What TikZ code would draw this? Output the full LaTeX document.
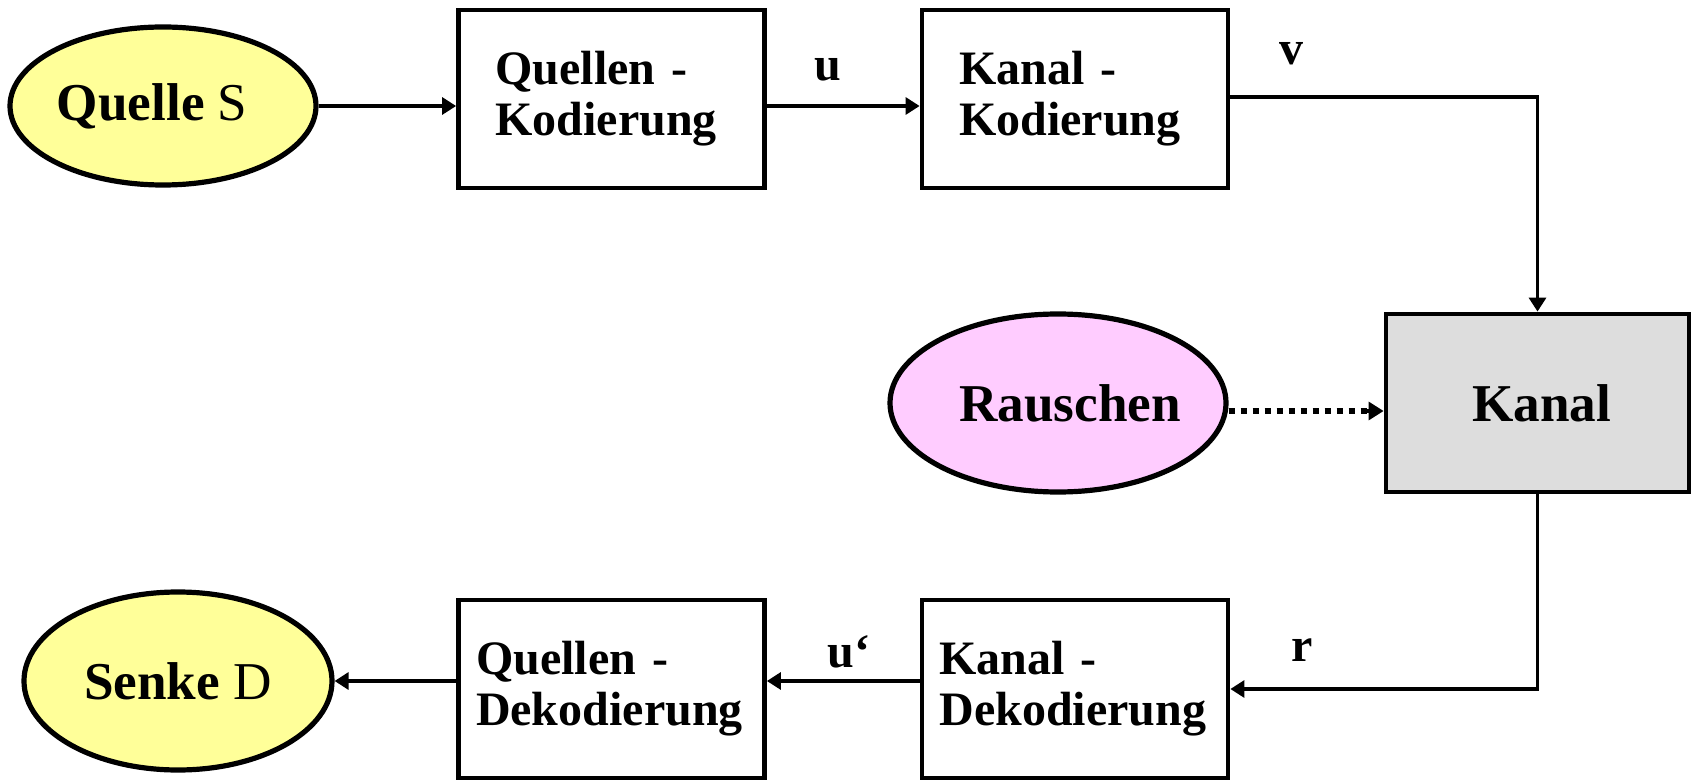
\documentclass[tikz,border=0pt]{standalone}
\usepackage{fontspec}
\setmainfont{Liberation Serif}
\usetikzlibrary{shapes.geometric,arrows.meta}
\definecolor{yel}{HTML}{FFFF99}
\definecolor{pnk}{HTML}{FFCCFF}
\definecolor{gry}{HTML}{DDDDDD}
\tikzset{
  oval/.style={ellipse,draw,line width=2.6pt,inner sep=0pt,font=\fontsize{26.6}{28}\selectfont\bfseries},
  blk/.style={rectangle,draw,line width=2.4pt,minimum width=153pt,minimum height=89pt,inner sep=0pt,
     align=left,font=\fontsize{24}{25.5}\selectfont\bfseries},
  tip/.style={-{Triangle[length=7pt,width=8.5pt]}},
  conn/.style={line width=1.6pt,tip},
  lbl/.style={font=\fontsize{24}{26}\selectfont\bfseries,inner sep=0pt}
}
\begin{document}
\begin{tikzpicture}[x=0.5pt,y=-0.5pt]
\useasboundingbox[fill=white] (0,0) rectangle (1691,780);
\node[oval,fill=yel,minimum width=153pt,minimum height=79pt] (quelle) at (163,106) {\hspace*{-5.4pt}Quelle\mdseries{} S\hspace*{5.4pt}};
\node[blk,text width=116pt] (qk) at (611.5,99) {Quellen -\\Kodierung};
\node[blk,text width=116pt] (kk) at (1075,99) {Kanal -\\Kodierung};
\node[blk,fill=gry,minimum width=151.5pt,font=\fontsize{26.6}{28}\selectfont\bfseries] (kanal) at (1537.5,403) {\hspace*{2pt}Kanal\hspace*{-2pt}};
\node[oval,fill=pnk,minimum width=168pt,minimum height=89pt] (rauschen) at (1058,403) {\hspace*{6pt}Rauschen\hspace*{-6pt}};
\node[blk,text width=135.5pt] (kd) at (1075,689) {Kanal -\\Dekodierung};
\node[blk,text width=135.5pt] (qd) at (611.5,689) {Quellen -\\Dekodierung};
\node[oval,fill=yel,minimum width=154pt,minimum height=89pt] (senke) at (178,681) {Senke\mdseries{} D};
\node[lbl] (lu) at (828,70) {u};
\node[lbl] (lv) at (1291,54) {v};
\node[lbl] (lu2) at (849,652) {u‘};
\node[lbl] (lr) at (1302,650) {r};
\draw[conn] (quelle.east) -- (quelle.east -| qk.west);
\draw[conn] (qk.east |- quelle.east) -- (kk.west |- quelle.east);
\draw[conn] ([yshift=1pt]kk.east) -| (kanal.north);
\draw[line width=3pt,dash pattern=on 3pt off 3pt] ([yshift=-4pt]rauschen.east) -- ([xshift=-8pt,yshift=-4pt]kanal.west);
\draw[line width=1.6pt,-{Triangle[length=7.5pt,width=9pt]}] ([xshift=-9pt,yshift=-4pt]kanal.west) -- ([yshift=-4pt]kanal.west);
\draw[conn] (kanal.south) |- (kd.east);
\draw[conn] (kd.west |- senke.east) -- (qd.east |- senke.east);
\draw[conn] (qd.west |- senke.east) -- (senke.east);
\end{tikzpicture}
\end{document}
